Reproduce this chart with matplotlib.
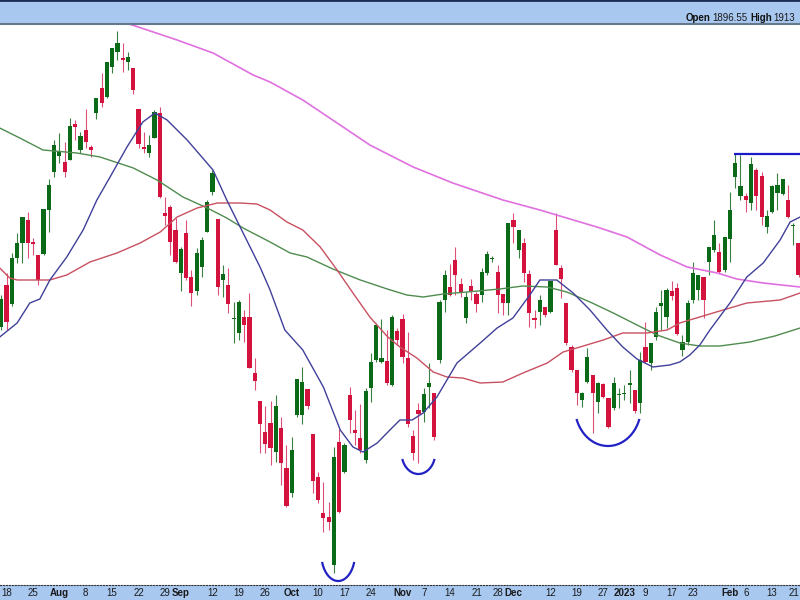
import numpy as np
import pandas as pd
import matplotlib
matplotlib.use('Agg')
import matplotlib.pyplot as plt

# trading days shown, Jul 15 2022 .. Feb 21 2023
holidays = ['2022-09-05', '2022-11-24', '2022-12-26', '2023-01-02', '2023-01-16', '2023-02-20']
days = pd.bdate_range('2022-07-15', '2023-02-21')
days = days[~days.isin(pd.to_datetime(holidays))]

opens = [1773, 1815, 1796, 1842, 1857, 1880, 1858, 1845, 1846, 1890,
         1928, 1944, 1938, 1940, 1976, 1950, 1970, 1953, 1987, 2012,
         2003, 2033, 2048, 2042, 2038, 2032, 1991, 1953, 1947, 1962,
         1987, 1887, 1893, 1870, 1827, 1867, 1823, 1809, 1833, 1868,
         1908, 1881, 1820, 1815, 1781, 1767, 1783, 1783, 1727, 1699,
         1668, 1677, 1648, 1672, 1632, 1607, 1685, 1685, 1711, 1666,
         1623, 1587, 1583, 1535, 1658, 1628, 1705, 1670, 1662, 1640,
         1712, 1740, 1738, 1739, 1715, 1769, 1781, 1742, 1664, 1690,
         1688, 1713, 1707, 1740, 1800, 1813, 1840, 1816, 1782, 1814,
         1806, 1805, 1827, 1841, 1828, 1806, 1797, 1880, 1850, 1857,
         1826, 1782, 1788, 1793, 1788, 1870, 1832, 1797, 1753, 1730,
         1700, 1718, 1725, 1698, 1716, 1702, 1692, 1705, 1706, 1715,
         1710, 1697, 1753, 1737, 1763, 1794, 1783, 1809, 1812, 1750,
         1758, 1800, 1810, 1823, 1838, 1850, 1848, 1830, 1861, 1923,
         1904, 1904, 1897, 1930, 1924, 1873, 1888, 1907, 1906, 1900,
         1874, 1857]
highs = [1805, 1827, 1847, 1867, 1883, 1888, 1862, 1845, 1891, 1921,
         1960, 1967, 1958, 1982, 1980, 1968, 1991, 1955, 2002, 2027,
         2038, 2052, 2069, 2057, 2048, 2032, 1991, 1968, 1965, 1990,
         1993, 1903, 1895, 1882, 1853, 1880, 1830, 1852, 1863, 1900,
         1930, 1881, 1835, 1832, 1798, 1800, 1790, 1807, 1742, 1699,
         1694, 1699, 1705, 1683, 1655, 1663, 1721, 1733, 1711, 1666,
         1628, 1618, 1598, 1653, 1671, 1657, 1713, 1690, 1696, 1712,
         1747, 1777, 1781, 1770, 1785, 1772, 1786, 1768, 1670, 1697,
         1712, 1737, 1707, 1800, 1830, 1836, 1853, 1822, 1808, 1821,
         1808, 1832, 1849, 1844, 1835, 1806, 1877, 1887, 1870, 1862,
         1830, 1790, 1805, 1793, 1819, 1887, 1835, 1797, 1755, 1730,
         1708, 1752, 1725, 1718, 1717, 1702, 1723, 1712, 1715, 1730,
         1710, 1748, 1778, 1757, 1793, 1810, 1812, 1819, 1817, 1765,
         1800, 1838, 1825, 1823, 1853, 1880, 1857, 1863, 1908, 1947,
         1945, 1907, 1943, 1932, 1928, 1890, 1915, 1927, 1921, 1915,
         1877, 1857]
lows = [1770, 1770, 1794, 1837, 1837, 1842, 1845, 1815, 1845, 1868,
        1923, 1937, 1923, 1940, 1960, 1947, 1952, 1943, 1981, 1993,
        2002, 2027, 2040, 2028, 2030, 2006, 1952, 1947, 1943, 1962,
        1902, 1875, 1845, 1837, 1809, 1820, 1794, 1805, 1823, 1868,
        1905, 1805, 1803, 1787, 1757, 1760, 1758, 1732, 1710, 1647,
        1647, 1635, 1638, 1615, 1593, 1603, 1683, 1676, 1691, 1607,
        1597, 1568, 1570, 1527, 1587, 1627, 1667, 1655, 1647, 1637,
        1698, 1738, 1737, 1715, 1714, 1755, 1737, 1673, 1640, 1637,
        1678, 1692, 1660, 1737, 1788, 1804, 1805, 1803, 1777, 1800,
        1788, 1798, 1825, 1838, 1787, 1785, 1785, 1857, 1842, 1818,
        1773, 1772, 1775, 1783, 1787, 1835, 1802, 1755, 1728, 1695,
        1693, 1717, 1667, 1687, 1702, 1672, 1690, 1692, 1700, 1697,
        1687, 1687, 1737, 1730, 1760, 1770, 1772, 1800, 1765, 1744,
        1755, 1797, 1800, 1782, 1825, 1848, 1827, 1828, 1838, 1912,
        1900, 1888, 1890, 1890, 1875, 1867, 1887, 1890, 1905, 1882,
        1855, 1823]
closes = [1801, 1778, 1842, 1857, 1883, 1857, 1856, 1820, 1891, 1915,
          1955, 1948, 1928, 1974, 1973, 1964, 1958, 1950, 2002, 1997,
          2038, 2052, 2057, 2040, 2043, 2010, 1956, 1951, 1955, 1988,
          1903, 1884, 1858, 1838, 1851, 1822, 1807, 1847, 1860, 1898,
          1927, 1813, 1826, 1796, 1782, 1798, 1775, 1732, 1719, 1676,
          1656, 1652, 1694, 1637, 1594, 1650, 1721, 1718, 1694, 1619,
          1600, 1582, 1578, 1643, 1588, 1655, 1680, 1667, 1650, 1709,
          1738, 1775, 1742, 1717, 1783, 1760, 1743, 1676, 1647, 1686,
          1706, 1717, 1663, 1798, 1825, 1805, 1825, 1807, 1803, 1809,
          1796, 1828, 1846, 1842, 1805, 1797, 1877, 1873, 1870, 1827,
          1787, 1780, 1800, 1785, 1819, 1835, 1821, 1757, 1730, 1707,
          1707, 1743, 1707, 1717, 1703, 1673, 1717, 1706, 1707, 1717,
          1689, 1740, 1738, 1757, 1788, 1797, 1810, 1804, 1766, 1758,
          1797, 1827, 1825, 1800, 1853, 1865, 1828, 1863, 1890, 1937,
          1914, 1900, 1936, 1904, 1883, 1884, 1914, 1915, 1921, 1883,
          1875, 1825]

# moving averages (position in trading days, value)
blue_k = [-0.3, 3.0, 5.4, 7.3, 9.2, 12.4, 15.5, 18.1, 20.6, 23.8, 26.8, 29.1, 31.4, 35.2,
          40.1, 42.7, 45.8, 49.0, 50.9, 53.7, 57.1, 61.0, 64.2, 66.6, 68.5, 71.2, 73.6,
          75.5, 77.8, 79.9, 82.5, 86.3, 90.7, 93.9, 96.9, 100.1, 102.0, 105.2, 108.3,
          111.5, 114.7, 117.7, 120.4, 123.4, 126.6, 128.5, 130.4, 132.3, 134.2, 138.0,
          141.2, 144.3, 147.5, 149.4, 151.3]
blue_v = [1763, 1777, 1797, 1801, 1820, 1843, 1870, 1900, 1923, 1953, 1978, 1987, 1980, 1960,
          1930, 1900, 1867, 1833, 1810, 1770, 1750, 1713, 1670, 1653, 1648, 1657, 1670,
          1680, 1680, 1687, 1703, 1737, 1757, 1772, 1782, 1805, 1820, 1820, 1807,
          1790, 1770, 1753, 1741, 1733, 1735, 1738, 1745, 1755, 1770, 1797,
          1823, 1837, 1860, 1878, 1883]
red_k = [-0.3, 1.6, 3.0, 9.2, 12.4, 16.8, 21.9, 26.3, 30.1, 33.3, 37.1, 40.9, 45.2, 48.4,
         50.9, 54.1, 57.1, 60.4, 63.6, 66.6, 69.8, 73.2, 75.5, 78.7, 81.8, 84.4, 87.4,
         90.7, 95.0, 98.8, 103.4, 106.4, 109.6, 114.0, 117.7, 122.3, 126.1, 128.5,
         134.8, 141.2, 147.5, 151.3]
red_v = [1832, 1822, 1820, 1820, 1825, 1838, 1847, 1857, 1868, 1883, 1892, 1897, 1897, 1896,
         1890, 1878, 1870, 1853, 1830, 1807, 1783, 1763, 1753, 1742, 1728, 1723, 1722,
         1717, 1718, 1727, 1737, 1748, 1753, 1760, 1767, 1767, 1770, 1777,
         1787, 1797, 1800, 1807]
green_k = [-0.3, 3.5, 7.9, 14.3, 18.7, 25.0, 29.5, 34.4, 39.0, 42.7, 45.8, 50.9, 54.7, 57.9,
           62.8, 68.0, 73.1, 76.8, 79.9, 83.7, 88.2, 94.4, 98.8, 103.4, 107.1, 111.5,
           115.9, 120.4, 124.2, 128.5, 132.3, 136.1, 141.8, 146.5, 151.3]
green_v = [1972, 1962, 1950, 1947, 1943, 1932, 1920, 1903, 1892, 1882, 1872, 1858, 1847, 1843,
           1831, 1820, 1811, 1805, 1803, 1806, 1808, 1811, 1814, 1813, 1808, 1798,
           1787, 1775, 1765, 1757, 1754, 1754, 1758, 1764, 1772]
pink_k = [21.5, 24.8, 33.3, 40.1, 47.7, 50.9, 57.1, 63.6, 69.8, 78.0, 85.5, 95.0, 102.0,
          105.8, 112.8, 118.5, 124.8, 129.9, 135.6, 139.3, 144.3, 151.3]
pink_v = [2080, 2075, 2060, 2047, 2025, 2018, 2000, 1977, 1955, 1933, 1917, 1900, 1890,
          1884, 1873, 1863, 1845, 1833, 1827, 1821, 1817, 1813]

# hand-drawn "U" marks: centre day, bottom value, end value, half width in days
arcs = [(63.8, 1519, 1537, 3.0), (79.0, 1626, 1640, 3.0), (114.9, 1654, 1680, 5.9)]
resist_start, resist_level = 138.8, 1946

tick_days = ['2022-07-18', '2022-07-25', '2022-08-01', '2022-08-08', '2022-08-15', '2022-08-22',
             '2022-08-29', '2022-09-01', '2022-09-12', '2022-09-19', '2022-09-26', '2022-10-03',
             '2022-10-10', '2022-10-17', '2022-10-24', '2022-11-01', '2022-11-07', '2022-11-14',
             '2022-11-21', '2022-11-28', '2022-12-01', '2022-12-12', '2022-12-19', '2022-12-27',
             '2023-01-03', '2023-01-09', '2023-01-17', '2023-01-23', '2023-02-01', '2023-02-06',
             '2023-02-13', '2023-02-21']
tick_text = ['18', '25', 'Aug', '8', '15', '22', '29', 'Sep', '12', '19', '26', 'Oct', '10', '17',
             '24', 'Nov', '7', '14', '21', '28', 'Dec', '12', '19', '27', '2023', '9', '17', '23',
             'Feb', '6', '13', '21']

o = np.array(opens, float); h = np.array(highs, float)
l = np.array(lows, float); c = np.array(closes, float)
x = np.arange(len(days))

GREEN = '#0b6a18'; RED = '#d4123e'
BAND = '#a8c8f0'
XLIM = (-0.246, 151.27)

fig = plt.figure(figsize=(8, 6), dpi=100)
ax = fig.add_axes([0, 15 / 600, 1, 560 / 600])
ax.set_xlim(*XLIM)
ax.set_ylim(1515, 2075)
ax.set_axis_off()

up = c >= o
ax.vlines(x, l, h, colors=np.where(up, '#3a8040', '#dc5078'), lw=0.8, zorder=2)
ax.bar(x, np.maximum(np.abs(c - o), 1.3), 0.8, bottom=np.minimum(o, c),
       color=np.where(up, GREEN, RED), linewidth=0, zorder=3)

ax.plot(pink_k, pink_v, color='#e070e0', lw=1.2, zorder=4)
ax.plot(green_k, green_v, color='#4f8c4f', lw=1.0, zorder=4)
ax.plot(red_k, red_v, color='#c85060', lw=1.0, zorder=4)
ax.plot(blue_k, blue_v, color='#40409a', lw=1.0, zorder=4)

ax.hlines(resist_level, resist_start, XLIM[1] + 1, color='#1a1ac8', lw=1.6, zorder=5)

t = np.deg2rad(np.linspace(200, 340, 40))
for ck, bot, end, hw in arcs:
    b = (end - bot) / (1 - np.sin(np.deg2rad(20)))
    a = hw / np.cos(np.deg2rad(20))
    ax.plot(ck + a * np.cos(t), bot + b + b * np.sin(t), color='#2222c4', lw=1.6, zorder=5)

# header band
hdr = fig.add_axes([0, 576 / 600, 1, 24 / 600])
hdr.set_xlim(0, 800); hdr.set_ylim(0, 24)
hdr.set_facecolor(BAND)
hdr.set_xticks([]); hdr.set_yticks([])
for s in ('left', 'right'):
    hdr.spines[s].set_visible(False)
hdr.spines['top'].set_color('#1c2c54'); hdr.spines['top'].set_linewidth(2)
hdr.spines['bottom'].set_color('#66788c'); hdr.spines['bottom'].set_linewidth(1.5)
fam = ['Liberation Sans Narrow', 'Liberation Sans', 'DejaVu Sans']
hdr.text(686, 6, 'Open', fontsize=7, fontweight='bold', family=fam, va='center', color='#111')
hdr.text(712, 6, '1896.55', fontsize=7, family=fam, va='center', color='#1a1a1a')
hdr.text(750, 6, 'High', fontsize=7, fontweight='bold', family=fam, va='center', color='#111')
hdr.text(773, 6, '1913', fontsize=7, family=fam, va='center', color='#1a1a1a')

# date band
band = fig.add_axes([0, 0, 1, 15 / 600])
band.set_xlim(*XLIM); band.set_ylim(0, 1)
band.set_facecolor(BAND)
band.set_xticks([]); band.set_yticks([])
for s in ('left', 'right', 'bottom'):
    band.spines[s].set_visible(False)
band.spines['top'].set_linestyle(':'); band.spines['top'].set_color('#333')
pos = {d: i for i, d in enumerate(days)}
for d, txt in zip(tick_days, tick_text):
    bold = not txt.isdigit() or len(txt) == 4
    xp, ha = pos[pd.Timestamp(d)], 'center'
    if xp > XLIM[1] - 1.2:
        xp, ha = XLIM[1] - 0.2, 'right'   # keep the last label inside the figure
    band.text(xp, 0.45, txt, ha=ha, va='center', fontsize=7,
              fontweight='bold' if bold else 'normal',
              family=['Liberation Sans', 'DejaVu Sans'], color='#1a1a1a')

fig.savefig('out.png', dpi=100)
